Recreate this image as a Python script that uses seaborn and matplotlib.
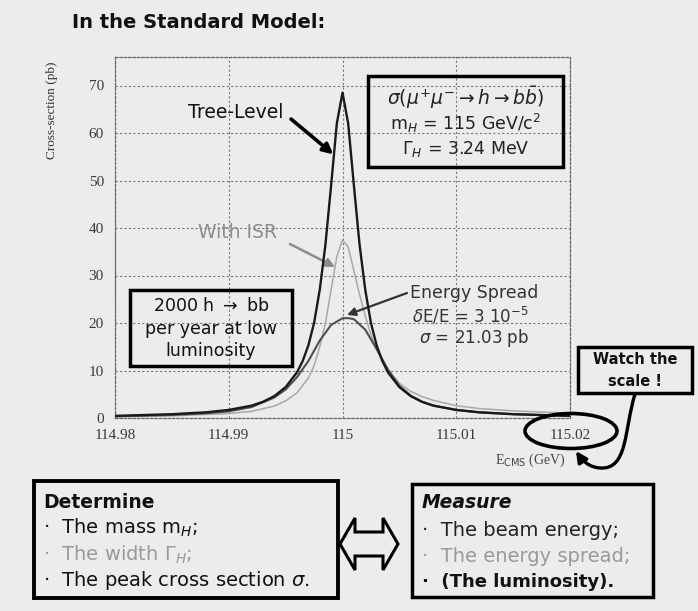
import numpy as np
import pandas as pd
import matplotlib
matplotlib.use("Agg")
import matplotlib.pyplot as plt
import seaborn as sns
from matplotlib.patches import Ellipse, Rectangle, Polygon, FancyArrowPatch
from matplotlib.path import Path
from matplotlib.ticker import MultipleLocator

# ---- data (centre-of-mass energy in GeV, cross-section in pb) ----
energy_tree = [114.980, 114.985, 114.988, 114.990, 114.992, 114.993, 114.994,
               114.995, 114.996, 114.9965, 114.997, 114.9975, 114.998, 114.9985,
               114.999, 114.9995, 115.000, 115.0005, 115.001, 115.0015, 115.002,
               115.0025, 115.003, 115.0035, 115.004, 115.005, 115.006, 115.007,
               115.008, 115.010, 115.012, 115.015, 115.020]
xsec_tree = [0.45, 0.8, 1.2, 1.7, 2.6, 3.4, 4.6,
             6.5, 9.6, 12.0, 15.3, 20.0, 27.0, 36.5,
             49.0, 62.0, 68.5, 62.0, 49.0, 36.5, 27.0,
             20.0, 15.3, 12.0, 9.6, 6.5, 4.6, 3.4,
             2.6, 1.7, 1.2, 0.8, 0.45]

energy_isr = [114.980, 114.985, 114.990, 114.992, 114.994, 114.995, 114.996,
              114.997, 114.9975, 114.998, 114.9985, 114.999, 114.9995, 115.000,
              115.0005, 115.001, 115.0015, 115.002, 115.0025, 115.003, 115.004,
              115.005, 115.006, 115.007, 115.008, 115.010, 115.012, 115.015, 115.020]
xsec_isr = [0.25, 0.45, 0.95, 1.4, 2.5, 3.6, 5.3,
            8.4, 11.0, 15.0, 20.0, 27.0, 34.0, 37.5,
            36.0, 31.0, 26.0, 21.5, 17.5, 14.5, 10.0,
            7.3, 5.6, 4.5, 3.7, 2.6, 2.0, 1.5, 1.0]

energy_spread = [114.980, 114.985, 114.988, 114.990, 114.992, 114.993, 114.994,
                 114.995, 114.996, 114.997, 114.998, 114.999, 115.000, 115.0005,
                 115.001, 115.002, 115.003, 115.004, 115.005, 115.006, 115.007,
                 115.008, 115.010, 115.012, 115.015, 115.020]
xsec_spread = [0.35, 0.65, 1.0, 1.4, 2.3, 3.3, 4.3,
               6.0, 8.6, 12.0, 16.3, 19.6, 21.0, 21.03,
               20.8, 18.6, 14.5, 10.2, 6.8, 4.7, 3.4,
               2.6, 1.7, 1.2, 0.8, 0.45]

x_ticks = [114.98, 114.99, 115.0, 115.01, 115.02]
x_tick_labels = ["114.98", "114.99", "115", "115.01", "115.02"]
y_ticks = [0, 10, 20, 30, 40, 50, 60, 70]

# ---- style ----
sns.set_style("white")
plt.rcParams["font.family"] = ["DejaVu Sans"]
plt.rcParams["mathtext.fontset"] = "dejavusans"

BG = "#ececec"
W, H = 698, 611


def fp(x, y):
    """pixel position -> figure fraction"""
    return (x / W, 1 - y / H)


fig = plt.figure(figsize=(W / 100, H / 100), dpi=100, facecolor=BG)
ax = fig.add_axes([115 / W, 1 - 418 / H, (570 - 115) / W, (418 - 57) / H])
ax.set_facecolor(BG)

sns.lineplot(x=energy_isr, y=xsec_isr, ax=ax, color="#a8a8a8", lw=1.1, zorder=3)
sns.lineplot(x=energy_spread, y=xsec_spread, ax=ax, color="#505050", lw=1.5, zorder=4)
sns.lineplot(x=energy_tree, y=xsec_tree, ax=ax, color="#1a1a1a", lw=1.7, zorder=5)

ax.set_xlim(114.98, 115.02)
ax.set_ylim(0, 76)
ax.set_xticks(x_ticks)
ax.set_xticklabels(x_tick_labels)
ax.set_yticks(y_ticks)
ax.yaxis.set_minor_locator(MultipleLocator(1))
ax.grid(True, which="major", color="#777777", lw=0.8, ls=(0, (2, 2)))
for side in ["top", "right", "left", "bottom"]:
    ax.spines[side].set_color("#666666")
    ax.spines[side].set_linestyle((0, (2, 1.5)))
    ax.spines[side].set_linewidth(0.9)
ax.tick_params(axis="both", which="major", labelsize=11, pad=5, length=3,
               color="#555555", labelcolor="#3a3a3a")
ax.tick_params(axis="y", which="minor", length=2.5, direction="inout", color="#555555")
for lbl in ax.get_xticklabels() + ax.get_yticklabels():
    lbl.set_family("Liberation Serif")
ax.set_xlabel("")
ax.set_ylabel("")

# axis titles
fig.text(*fp(52, 110), "Cross-section (pb)", rotation=90, ha="center", va="center",
         fontsize=9.5, family="Liberation Serif", color="#333333")
fig.text(*fp(530, 460), r"E$_{\rm CMS}$ (GeV)", ha="center", va="center",
         fontsize=10, family="Liberation Serif", color="#444444")

# title
fig.text(*fp(72, 22), "In the Standard Model:", ha="left", va="center",
         fontsize=14, weight="bold", color="#111111")

# process box
fig.add_artist(Rectangle(fp(368, 167), 195 / W, 91 / H, transform=fig.transFigure,
                         fill=False, lw=2.5, ec="black", zorder=6))
fig.text(*fp(466, 98), r"$\sigma(\mu^{+}\mu^{-} \rightarrow h \rightarrow b\bar{b})$",
         ha="center", va="center", fontsize=13.5, color="#222222")
fig.text(*fp(466, 123), r"m$_{H}$ = 115 GeV/c$^{2}$", ha="center", va="center",
         fontsize=12.5, color="#222222")
fig.text(*fp(466, 149), r"$\Gamma_{H}$ = 3.24 MeV", ha="center", va="center",
         fontsize=12.5, color="#222222")

# curve labels and their pointers
fig.text(*fp(236, 113), "Tree-Level", ha="center", va="center", fontsize=13.5,
         color="#111111")
ax.annotate("", xy=(114.9992, 55.5), xycoords="data",
            xytext=fp(291, 119), textcoords="figure fraction",
            arrowprops=dict(arrowstyle="-|>", color="black", lw=2.6,
                            mutation_scale=15, shrinkA=0, shrinkB=0))
fig.text(*fp(238, 233), "With ISR", ha="center", va="center", fontsize=13.5,
         color="#8c8c8c")
ax.annotate("", xy=(114.99934, 31.8), xycoords="data",
            xytext=fp(290, 244), textcoords="figure fraction",
            arrowprops=dict(arrowstyle="-|>", color="#8c8c8c", lw=1.8,
                            mutation_scale=13, shrinkA=0, shrinkB=0))
fig.text(*fp(474, 293), "Energy Spread", ha="center", va="center", fontsize=12.5,
         color="#333333")
ax.annotate("", xy=(115.0004, 21.7), xycoords="data",
            xytext=fp(407, 293), textcoords="figure fraction",
            arrowprops=dict(arrowstyle="-|>", color="#333333", lw=1.6,
                            mutation_scale=12, shrinkA=0, shrinkB=0))
fig.text(*fp(470, 316), r"$\delta$E/E = 3 10$^{-5}$", ha="center", va="center",
         fontsize=12, color="#333333")
fig.text(*fp(474, 338), r"$\sigma$ = 21.03 pb", ha="center", va="center",
         fontsize=12, color="#333333")

# events box
fig.add_artist(Rectangle(fp(130, 366), 162 / W, 76 / H, transform=fig.transFigure,
                         fill=False, lw=2.5, ec="black", zorder=6))
fig.text(*fp(211, 306), r"2000 h $\rightarrow$ bb", ha="center", va="center",
         fontsize=12.5, color="#111111")
fig.text(*fp(211, 329), "per year at low", ha="center", va="center",
         fontsize=12.5, color="#111111")
fig.text(*fp(211, 351), "luminosity", ha="center", va="center",
         fontsize=12.5, color="#111111")

# scale warning
fig.add_artist(Rectangle(fp(578, 393), 114 / W, 46 / H, transform=fig.transFigure,
                         fill=False, lw=2.5, ec="black", zorder=6))
fig.text(*fp(635, 359), "Watch the", ha="center", va="center", fontsize=10.5,
         weight="bold", color="#111111")
fig.text(*fp(635, 381), "scale !", ha="center", va="center", fontsize=10.5,
         weight="bold", color="#111111")
fig.add_artist(Ellipse(fp(571, 431), 92 / W, 35 / H, transform=fig.transFigure,
                       fill=False, lw=2.6, ec="black", zorder=6))
connector = Path([fp(635, 394), fp(624, 430), fp(628, 470), fp(600, 468),
                  fp(588, 467), fp(582, 460), fp(576, 451)],
                 [Path.MOVETO, Path.CURVE4, Path.CURVE4, Path.CURVE4,
                  Path.CURVE4, Path.CURVE4, Path.CURVE4])
fig.add_artist(FancyArrowPatch(path=connector, arrowstyle="-|>", mutation_scale=16,
                               lw=2.4, color="black", transform=fig.transFigure,
                               zorder=7))

# bottom panels
fig.add_artist(Rectangle(fp(34, 598), 304 / W, 117 / H, transform=fig.transFigure,
                         fill=False, lw=2.8, ec="black"))
fig.text(*fp(43, 502), "Determine", ha="left", va="center", fontsize=13.5,
         weight="bold", color="#111111")
fig.text(*fp(43, 528), r"·  The mass m$_{H}$;", ha="left", va="center", fontsize=14,
         color="#111111")
fig.text(*fp(43, 555), r"·  The width $\Gamma_{H}$;", ha="left", va="center",
         fontsize=14, color="#9a9a9a")
fig.text(*fp(43, 580), r"·  The peak cross section $\sigma$.", ha="left", va="center",
         fontsize=14, color="#111111")

arrow_pts = [fp(340, 544), fp(355, 518), fp(355, 532), fp(383, 532), fp(383, 518),
             fp(398, 544), fp(383, 570), fp(383, 556), fp(355, 556), fp(355, 570)]
fig.add_artist(Polygon(arrow_pts, closed=True, fill=False, lw=2.2, ec="black",
                       transform=fig.transFigure))

fig.add_artist(Rectangle(fp(412, 597), 241 / W, 113 / H, transform=fig.transFigure,
                         fill=False, lw=2.5, ec="black"))
fig.text(*fp(422, 502), "Measure", ha="left", va="center", fontsize=13.5,
         weight="bold", style="italic", color="#111111")
fig.text(*fp(422, 530), "·  The beam energy;", ha="left", va="center", fontsize=14,
         color="#222222")
fig.text(*fp(422, 557), "·  The energy spread;", ha="left", va="center", fontsize=14,
         color="#9a9a9a")
fig.text(*fp(422, 582), "·  (The luminosity).", ha="left", va="center", fontsize=13,
         weight="bold", color="#111111")

fig.savefig("out.png", dpi=100, facecolor=BG)
